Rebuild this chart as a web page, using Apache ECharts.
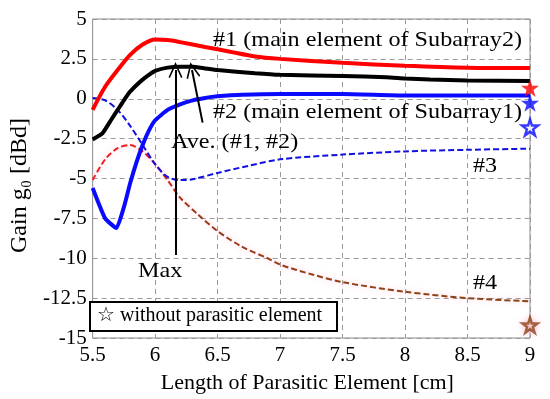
<!DOCTYPE html>
<html><head><meta charset="utf-8">
<script src="https://cdn.jsdelivr.net/npm/echarts@6/dist/echarts.min.js"></script>
<style>html,body{margin:0;padding:0;background:#fff}#c{width:550px;height:399px}</style>
</head><body><div id="c"></div>
<script>
// Data
var xTicks = [5.5, 9, 0.5];
var yTicks = [-15, 5, 2.5];

var s1x = [5.5, 5.6, 5.7, 5.8, 5.9, 6.0, 6.1, 6.2, 6.4, 6.6, 6.8, 7.0, 7.5, 8.0, 8.5, 9.0];
var s1y = [-0.7, 0.75, 1.8, 2.75, 3.4, 3.72, 3.68, 3.55, 3.25, 2.95, 2.65, 2.5, 2.25, 2.07, 1.95, 1.93];

var aveX = [5.5, 5.58, 5.65, 5.7, 5.75, 5.8, 5.85, 5.9, 5.95, 6.0, 6.1, 6.2, 6.3, 6.4, 6.5, 6.8, 7.0, 7.5, 7.85, 8.0, 8.2, 8.5, 9.0];
var aveY = [-2.55, -2.15, -1.3, -0.7, -0.1, 0.45, 0.85, 1.2, 1.5, 1.75, 1.95, 2.0, 2.0, 1.9, 1.8, 1.6, 1.5, 1.42, 1.35, 1.27, 1.2, 1.15, 1.12];

var s2x = [5.5, 5.6, 5.69, 5.75, 5.8, 5.85, 5.9, 5.95, 6.0, 6.1, 6.2, 6.3, 6.4, 6.5, 6.7, 7.0, 7.5, 8.0, 8.5, 9.0];
var s2y = [-5.6, -7.5, -8.1, -6.8, -5.3, -4.0, -2.9, -2.0, -1.35, -0.7, -0.35, -0.1, 0.05, 0.15, 0.25, 0.3, 0.3, 0.2, 0.2, 0.2];

var s3x = [5.5, 5.6, 5.7, 5.8, 5.9, 6.0, 6.1, 6.2, 6.3, 6.5, 6.75, 7.0, 7.5, 8.0, 8.5, 9.0];
var s3y = [0.05, -0.1, -0.7, -1.7, -2.9, -4.1, -4.9, -5.1, -5.05, -4.65, -4.2, -3.8, -3.5, -3.3, -3.2, -3.13];

var s4x = [5.5, 5.6, 5.7, 5.8, 5.9, 6.0, 6.1, 6.2, 6.35, 6.5, 6.7, 6.9, 7.0, 7.25, 7.5, 8.0, 8.5, 9.0];
var s4y = [-5.1, -3.8, -3.1, -2.9, -3.3, -4.1, -5.1, -6.2, -7.3, -8.3, -9.3, -10.0, -10.4, -11.0, -11.5, -12.1, -12.5, -12.7];

// Values without parasitic element (at 9 cm)
var noParX = 9.0;
var noPar1 = 0.68, noPar2 = -0.25, noPar3 = -1.8, noPar4 = -14.2;

function pairs(xs, ys) { return xs.map(function (x, i) { return [x, ys[i]]; }); }

var STAR = 'path://M50,2 L61.8,37.6 L99,37.6 L69,59.6 L80.4,95 L50,73 L19.6,95 L31,59.6 L1,37.6 L38.2,37.6 Z';
var CHEV = 'path://M0,10 L5,0 L10,10 L9,10.6 L5,2.4 L1,10.6 Z';
var FONT = 'Liberation Serif';
var AF = '22px "Liberation Serif"';

function label(txt, x, y, font) {
  return { type: 'text', x: x, y: y, scaleX: 1.1, z: 20,
    style: { text: txt, font: font || AF, fill: '#000', textVerticalAlign: 'top', verticalAlign: 'top' } };
}

var chart = echarts.init(document.getElementById('c'), null, { renderer: 'canvas' });
var option = {
  animation: false,
  backgroundColor: '#fff',
  grid: { left: 76, right: 20, top: 19, bottom: 61, show: true, borderColor: '#8a8a8a', borderWidth: 1 },
  xAxis: {
    type: 'value', min: xTicks[0], max: xTicks[1], interval: xTicks[2],
    name: 'Length of Parasitic Element [cm]', nameLocation: 'middle', nameGap: 34,
    nameTextStyle: { fontFamily: FONT, fontSize: 22, color: '#000', padding: [0, 8, 0, 0] },
    axisLine: { show: false }, axisTick: { show: false },
    axisLabel: { fontFamily: FONT, fontSize: 21, color: '#000', margin: 7, formatter: function (v) { return String(v); } },
    splitLine: { show: true, lineStyle: { color: '#9a9a9a', type: [5, 4], width: 1 } }
  },
  yAxis: {
    type: 'value', min: yTicks[0], max: yTicks[1], interval: yTicks[2],
    name: 'Gain g\u2080 [dBd]', nameLocation: 'middle', nameGap: 52, nameRotate: 90,
    nameTextStyle: { fontFamily: FONT, fontSize: 24, color: '#000', padding: [0, 14, 0, 0] },
    axisLine: { show: false }, axisTick: { show: false },
    axisLabel: { fontFamily: FONT, fontSize: 21, color: '#000', margin: 6 },
    splitLine: { show: true, lineStyle: { color: '#9a9a9a', type: [5, 4], width: 1 } }
  },
  series: [
    { type: 'line', data: pairs(s4x, s4y), symbol: 'none', smooth: 0.3, z: 2,
      lineStyle: { width: 2, type: [6, 3],
        color: new echarts.graphic.LinearGradient(0, 0, 1, 0, [
          { offset: 0, color: '#ff1a1a' }, { offset: 0.13, color: '#e02020' },
          { offset: 0.24, color: '#9a3a1a' }, { offset: 1, color: '#8b4513' }]),
        shadowColor: 'rgba(255,170,210,0.7)', shadowBlur: 6 } },
    { type: 'line', data: pairs(s3x, s3y), symbol: 'none', smooth: 0.3, z: 3,
      lineStyle: { width: 2, type: [6, 3], color: '#1010e0' } },
    { type: 'line', data: pairs(s2x, s2y), symbol: 'none', smooth: 0.15, z: 4,
      lineStyle: { width: 4, color: '#0a0aff' } },
    { type: 'line', data: pairs(aveX, aveY), symbol: 'none', smooth: 0.15, z: 5,
      lineStyle: { width: 4, color: '#000' },
      markLine: {
        silent: true, symbol: ['none', CHEV], symbolSize: [14, 16], z: 6,
        label: { show: false },
        lineStyle: { color: '#000', width: 2, type: 'solid' },
        data: [
          [{ coord: [6.163, -9.8] }, { coord: [6.163, 1.8] }],
          [{ coord: [6.38, -1.5] }, { coord: [6.295, 1.8] }]
        ]
      } },
    { type: 'line', data: pairs(s1x, s1y), symbol: 'none', smooth: 0.3, z: 5,
      lineStyle: { width: 4, color: '#ff0000' } },
    { type: 'scatter', data: [[noParX, noPar1]], symbol: STAR, symbolSize: 18, z: 10,
      itemStyle: { color: '#ff0000' } },
    { type: 'scatter', data: [[noParX, noPar2]], symbol: STAR, symbolSize: 18, z: 10,
      itemStyle: { color: '#0a0aff' } },
    { type: 'scatter', data: [[noParX, noPar3]], symbol: STAR, symbolSize: 16, z: 10,
      itemStyle: { color: '#ffffff', borderColor: '#0a0aff', borderWidth: 2.5 } },
    { type: 'scatter', data: [[noParX, noPar4]], symbol: STAR, symbolSize: 15, z: 10,
      itemStyle: { color: '#f4e0d0', borderColor: '#8b4513', borderWidth: 2.5, shadowColor: 'rgba(255,170,210,0.8)', shadowBlur: 6 } }
  ],
  graphic: [
    label('#1 (main element of Subarray2)', 213, 29),
    label('#2 (main element of Subarray1)', 213, 101),
    label('Ave. (#1, #2)', 171, 131),
    label('#3', 473, 155),
    label('#4', 473, 272),
    label('Max', 138, 260),
    { type: 'rect', shape: { x: 90, y: 302, width: 247, height: 29 }, z: 19,
      style: { fill: '#fff', stroke: '#000', lineWidth: 2 } },
    { type: 'text', x: 97, y: 306, z: 20, style: { text: '\u2606 without parasitic element', font: '20px "Liberation Serif"', fill: '#000', textVerticalAlign: 'top', verticalAlign: 'top' } }
  ]
};
chart.setOption(option);
</script></body></html>
